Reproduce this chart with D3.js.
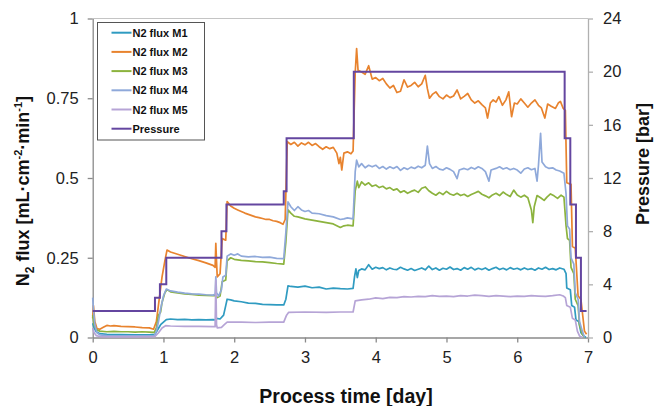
<!DOCTYPE html>
<html>
<head>
<meta charset="utf-8">
<script src="https://cdn.jsdelivr.net/npm/d3@7"></script>
<style>
  body { margin: 0; background: #fff; }
  svg { font-family: "Liberation Sans", Arial, sans-serif; }
</style>
</head>
<body>
<svg id="chart" width="660" height="406"></svg>
<script>
// series: [day, value]
const m1 = [[0,0.045],[0.02,0.03],[0.05,0.018],[0.1,0.012],[0.2,0.01],[0.4,0.009],[0.6,0.008],[0.8,0.008],[0.88,0.01],[0.92,0.025],[0.96,0.04],[1.0,0.048],[1.04,0.056],[1.1,0.058],[1.2,0.056],[1.3,0.057],[1.4,0.055],[1.5,0.056],[1.6,0.055],[1.7,0.056],[1.73,0.055],[1.75,0.06],[1.8,0.058],[1.85,0.07],[1.88,0.1],[1.9,0.12],[1.95,0.118],[2.0,0.115],[2.1,0.112],[2.2,0.108],[2.3,0.107],[2.4,0.104],[2.5,0.103],[2.6,0.102],[2.7,0.102],[2.73,0.12],[2.76,0.162],[2.8,0.16],[2.9,0.158],[3.0,0.161],[3.1,0.156],[3.2,0.158],[3.3,0.152],[3.4,0.155],[3.5,0.153],[3.6,0.152],[3.68,0.154],[3.7,0.19],[3.72,0.215],[3.74,0.188],[3.76,0.21],[3.8,0.215],[3.85,0.212],[3.9,0.228],[3.95,0.214],[4.0,0.22],[4.05,0.216],[4.1,0.219],[4.15,0.212],[4.2,0.218],[4.25,0.214],[4.3,0.213],[4.35,0.22],[4.4,0.215],[4.45,0.211],[4.5,0.216],[4.55,0.21],[4.6,0.214],[4.65,0.218],[4.7,0.212],[4.75,0.224],[4.8,0.213],[4.85,0.218],[4.9,0.211],[4.95,0.217],[5.0,0.214],[5.05,0.221],[5.1,0.213],[5.15,0.216],[5.2,0.211],[5.25,0.219],[5.3,0.214],[5.35,0.22],[5.4,0.212],[5.45,0.217],[5.5,0.213],[5.55,0.218],[5.6,0.211],[5.65,0.216],[5.7,0.22],[5.75,0.213],[5.8,0.217],[5.85,0.212],[5.9,0.219],[5.95,0.214],[6.0,0.217],[6.05,0.212],[6.1,0.218],[6.15,0.213],[6.2,0.216],[6.25,0.211],[6.3,0.218],[6.35,0.214],[6.4,0.22],[6.45,0.213],[6.5,0.216],[6.55,0.212],[6.6,0.218],[6.66,0.214],[6.69,0.2],[6.7,0.155],[6.75,0.15],[6.77,0.1],[6.81,0.095],[6.83,0.055],[6.87,0.05],[6.9,0.015],[6.94,0.005],[6.97,0]];

const m2 = [[0,0.06],[0.01,0.1],[0.03,0.05],[0.06,0.028],[0.1,0.026],[0.15,0.032],[0.2,0.038],[0.25,0.036],[0.3,0.037],[0.4,0.035],[0.5,0.034],[0.6,0.033],[0.7,0.031],[0.8,0.03],[0.86,0.026],[0.9,0.05],[0.94,0.12],[0.98,0.19],[1.02,0.24],[1.05,0.274],[1.1,0.268],[1.2,0.261],[1.3,0.254],[1.4,0.247],[1.5,0.241],[1.6,0.234],[1.7,0.226],[1.73,0.22],[1.74,0.295],[1.75,0.24],[1.76,0.19],[1.8,0.2],[1.83,0.31],[1.88,0.305],[1.9,0.426],[1.95,0.412],[2.0,0.405],[2.05,0.4],[2.1,0.395],[2.15,0.39],[2.2,0.386],[2.25,0.382],[2.3,0.378],[2.35,0.376],[2.4,0.373],[2.45,0.37],[2.5,0.37],[2.55,0.366],[2.6,0.364],[2.65,0.36],[2.69,0.355],[2.72,0.37],[2.75,0.614],[2.8,0.605],[2.85,0.612],[2.9,0.6],[2.95,0.61],[3.0,0.604],[3.05,0.612],[3.1,0.602],[3.15,0.608],[3.2,0.598],[3.25,0.59],[3.3,0.598],[3.35,0.592],[3.4,0.596],[3.45,0.578],[3.48,0.545],[3.5,0.565],[3.52,0.525],[3.55,0.578],[3.6,0.582],[3.65,0.576],[3.68,0.585],[3.71,0.83],[3.73,0.906],[3.75,0.838],[3.8,0.832],[3.85,0.825],[3.9,0.852],[3.95,0.81],[4.0,0.815],[4.05,0.805],[4.1,0.812],[4.15,0.795],[4.2,0.782],[4.25,0.79],[4.3,0.768],[4.35,0.772],[4.4,0.808],[4.45,0.785],[4.5,0.79],[4.55,0.8],[4.6,0.786],[4.65,0.795],[4.7,0.822],[4.73,0.78],[4.76,0.75],[4.8,0.762],[4.85,0.77],[4.9,0.755],[4.95,0.748],[5.0,0.76],[5.05,0.752],[5.1,0.757],[5.15,0.776],[5.2,0.748],[5.25,0.756],[5.3,0.765],[5.35,0.745],[5.4,0.735],[5.45,0.742],[5.5,0.73],[5.55,0.72],[5.58,0.688],[5.62,0.735],[5.66,0.745],[5.7,0.738],[5.74,0.755],[5.79,0.728],[5.84,0.745],[5.88,0.77],[5.92,0.692],[5.96,0.735],[6.0,0.732],[6.05,0.748],[6.1,0.735],[6.15,0.722],[6.2,0.735],[6.25,0.745],[6.3,0.728],[6.34,0.72],[6.39,0.688],[6.43,0.732],[6.48,0.725],[6.54,0.718],[6.58,0.735],[6.61,0.74],[6.65,0.718],[6.68,0.712],[6.7,0.485],[6.76,0.48],[6.78,0.285],[6.82,0.28],[6.86,0.13],[6.9,0.12],[6.95,0.02],[6.98,0.01]];

const m3 = [[0,0.07],[0.02,0.04],[0.05,0.025],[0.1,0.02],[0.2,0.018],[0.3,0.019],[0.4,0.018],[0.5,0.018],[0.6,0.017],[0.7,0.018],[0.8,0.017],[0.87,0.016],[0.9,0.03],[0.93,0.07],[0.96,0.08],[0.98,0.11],[1.02,0.14],[1.05,0.15],[1.1,0.143],[1.2,0.14],[1.3,0.137],[1.4,0.135],[1.5,0.133],[1.6,0.132],[1.7,0.131],[1.73,0.132],[1.76,0.125],[1.8,0.13],[1.83,0.175],[1.88,0.18],[1.9,0.24],[1.95,0.25],[2.0,0.245],[2.1,0.242],[2.2,0.24],[2.3,0.238],[2.4,0.237],[2.5,0.235],[2.6,0.232],[2.7,0.23],[2.73,0.3],[2.76,0.4],[2.8,0.39],[2.85,0.38],[2.9,0.378],[2.95,0.375],[3.0,0.372],[3.1,0.368],[3.2,0.364],[3.3,0.36],[3.4,0.356],[3.5,0.345],[3.55,0.35],[3.6,0.352],[3.68,0.35],[3.71,0.46],[3.74,0.49],[3.76,0.47],[3.8,0.488],[3.85,0.478],[3.9,0.485],[3.95,0.474],[4.0,0.478],[4.05,0.47],[4.1,0.474],[4.15,0.466],[4.2,0.47],[4.25,0.462],[4.3,0.466],[4.35,0.455],[4.4,0.46],[4.45,0.452],[4.5,0.458],[4.55,0.462],[4.6,0.455],[4.65,0.468],[4.7,0.472],[4.75,0.46],[4.8,0.452],[4.85,0.446],[4.9,0.455],[4.95,0.448],[5.0,0.458],[5.05,0.45],[5.1,0.446],[5.15,0.452],[5.2,0.445],[5.25,0.449],[5.3,0.442],[5.35,0.448],[5.4,0.453],[5.45,0.458],[5.5,0.449],[5.55,0.444],[5.6,0.438],[5.65,0.447],[5.7,0.452],[5.75,0.445],[5.8,0.456],[5.85,0.448],[5.9,0.442],[5.95,0.462],[6.0,0.447],[6.05,0.44],[6.1,0.446],[6.15,0.438],[6.2,0.4],[6.22,0.36],[6.24,0.41],[6.28,0.445],[6.33,0.438],[6.38,0.43],[6.42,0.44],[6.47,0.45],[6.52,0.444],[6.57,0.436],[6.62,0.446],[6.66,0.44],[6.69,0.35],[6.71,0.31],[6.74,0.305],[6.76,0.22],[6.8,0.2],[6.82,0.12],[6.86,0.1],[6.88,0.04],[6.92,0.01],[6.95,0]];

const m4 = [[0,0.125],[0.01,0.09],[0.03,0.04],[0.06,0.015],[0.1,0.008],[0.2,0.006],[0.4,0.005],[0.6,0.005],[0.8,0.005],[0.87,0.006],[0.9,0.02],[0.93,0.05],[0.96,0.09],[1.0,0.13],[1.04,0.152],[1.1,0.146],[1.2,0.142],[1.3,0.139],[1.4,0.137],[1.5,0.136],[1.6,0.134],[1.7,0.133],[1.73,0.135],[1.74,0.19],[1.75,0.14],[1.78,0.13],[1.82,0.15],[1.84,0.19],[1.88,0.195],[1.9,0.255],[1.95,0.262],[2.0,0.258],[2.05,0.262],[2.1,0.255],[2.2,0.253],[2.3,0.254],[2.4,0.251],[2.5,0.252],[2.6,0.248],[2.7,0.247],[2.73,0.33],[2.76,0.425],[2.8,0.41],[2.85,0.398],[2.9,0.41],[2.95,0.4],[3.0,0.395],[3.05,0.398],[3.1,0.39],[3.2,0.388],[3.3,0.382],[3.4,0.378],[3.5,0.37],[3.55,0.372],[3.6,0.375],[3.68,0.372],[3.71,0.52],[3.73,0.556],[3.76,0.535],[3.8,0.545],[3.85,0.532],[3.9,0.54],[3.95,0.535],[4.0,0.54],[4.05,0.53],[4.1,0.536],[4.15,0.528],[4.2,0.535],[4.25,0.53],[4.3,0.536],[4.35,0.524],[4.4,0.532],[4.45,0.527],[4.5,0.534],[4.55,0.53],[4.6,0.537],[4.65,0.532],[4.7,0.54],[4.73,0.6],[4.76,0.545],[4.8,0.53],[4.85,0.536],[4.9,0.528],[4.95,0.525],[5.0,0.532],[5.05,0.527],[5.1,0.52],[5.15,0.498],[5.18,0.525],[5.25,0.53],[5.3,0.526],[5.35,0.533],[5.4,0.528],[5.45,0.535],[5.5,0.53],[5.55,0.52],[5.6,0.49],[5.63,0.525],[5.7,0.53],[5.75,0.535],[5.8,0.528],[5.85,0.532],[5.9,0.526],[5.95,0.53],[6.0,0.525],[6.05,0.515],[6.1,0.528],[6.15,0.532],[6.2,0.526],[6.25,0.53],[6.28,0.49],[6.3,0.54],[6.33,0.64],[6.35,0.55],[6.4,0.535],[6.45,0.53],[6.5,0.532],[6.55,0.525],[6.6,0.522],[6.66,0.515],[6.69,0.45],[6.71,0.35],[6.74,0.34],[6.76,0.25],[6.8,0.23],[6.82,0.14],[6.86,0.12],[6.88,0.05],[6.92,0.02],[6.95,0]];

const m5 = [[0,0.03],[0.02,0.015],[0.05,0.006],[0.1,0.003],[0.3,0.002],[0.6,0.002],[0.88,0.003],[0.93,0.015],[0.98,0.03],[1.03,0.037],[1.1,0.036],[1.3,0.035],[1.5,0.035],[1.7,0.034],[1.73,0.034],[1.74,0.18],[1.75,0.04],[1.76,0.03],[1.82,0.032],[1.86,0.04],[1.9,0.048],[2.1,0.048],[2.3,0.047],[2.5,0.048],[2.7,0.048],[2.74,0.07],[2.77,0.079],[3.0,0.08],[3.3,0.079],[3.5,0.08],[3.68,0.08],[3.71,0.115],[3.8,0.118],[3.9,0.12],[4.0,0.124],[4.1,0.122],[4.2,0.126],[4.3,0.125],[4.4,0.128],[4.5,0.127],[4.6,0.129],[4.7,0.128],[4.8,0.131],[4.9,0.129],[5.0,0.13],[5.1,0.128],[5.2,0.131],[5.3,0.13],[5.4,0.133],[5.5,0.131],[5.6,0.129],[5.7,0.131],[5.8,0.13],[5.9,0.128],[6.0,0.13],[6.1,0.129],[6.2,0.131],[6.3,0.13],[6.4,0.129],[6.5,0.131],[6.6,0.134],[6.65,0.13],[6.68,0.125],[6.7,0.1],[6.75,0.095],[6.78,0.06],[6.82,0.055],[6.85,0.02],[6.88,0.005],[6.92,0]];

// pressure in bar, step changes
const pressure = [[0,2],[0.88,3],[0.95,4],[1.04,6],[1.82,8],[1.89,10],[2.70,11],[2.74,15],[3.69,20],[6.67,15],[6.75,10],[6.83,6],[6.90,2],[6.98,2]];

const names = ["N2 flux M1","N2 flux M2","N2 flux M3","N2 flux M4","N2 flux M5","Pressure"];
const colors = ["#2f9bc1","#e8832e","#8cb33e","#8fa9da","#b6a4d6","#6446a0"];
const xTicks = [0,1,2,3,4,5,6,7];
const yTicks = [0,0.25,0.5,0.75,1];
const pTicks = [0,4,8,12,16,20,24];

const svg = d3.select("#chart");
const margin = {top: 18.5, right: 72, bottom: 68.5, left: 92.7};
const W = 660, H = 406;

const x = d3.scaleLinear([0, 7], [margin.left, W - margin.right]);
const y = d3.scaleLinear([0, 1], [H - margin.bottom, margin.top]);
const yP = d3.scaleLinear([0, 24], [H - margin.bottom, margin.top]);

// frame: top line
svg.append("line")
  .attr("x1", x(0)).attr("x2", x(7))
  .attr("y1", y(1)).attr("y2", y(1))
  .attr("stroke", "#c4c4c4").attr("stroke-width", 1);

const styleAxis = (g, col) => {
  g.select(".domain").attr("stroke", col).attr("stroke-width", 1.3);
  g.selectAll(".tick line").attr("stroke", col).attr("stroke-width", 1.3);
  g.selectAll(".tick text").attr("fill", "#222").attr("font-size", "16.5px");
};

svg.append("g")
  .attr("transform", `translate(0,${y(0)})`)
  .call(d3.axisBottom(x).tickValues(xTicks).tickSize(5).tickSizeOuter(0).tickPadding(9)
    .tickFormat(d3.format("d")))
  .call(g => styleAxis(g, "#8a8a8a"));

svg.append("g")
  .attr("transform", `translate(${x(0)},0)`)
  .call(d3.axisLeft(y).tickValues(yTicks).tickSize(5).tickSizeOuter(0).tickPadding(9)
    .tickFormat(d => String(d)))
  .call(g => styleAxis(g, "#8a8a8a"));

svg.append("g")
  .attr("transform", `translate(${x(7)},0)`)
  .call(d3.axisRight(yP).tickValues(pTicks).tickSize(5).tickSizeOuter(0).tickPadding(10)
    .tickFormat(d3.format("d")))
  .call(g => styleAxis(g, "#b0b0b0"));

// lines
const fluxLine = d3.line().x(d => x(d[0])).y(d => y(d[1]));
const pLine = d3.line().x(d => x(d[0])).y(d => yP(d[1])).curve(d3.curveStepAfter);

const series = [m1, m2, m3, m4, m5];
svg.append("g")
  .selectAll("path")
  .data(series)
  .join("path")
    .attr("d", fluxLine)
    .attr("fill", "none")
    .attr("stroke", (d, i) => colors[i])
    .attr("stroke-width", 1.7)
    .attr("stroke-linejoin", "round");

svg.append("path")
  .attr("d", pLine(pressure))
  .attr("fill", "none")
  .attr("stroke", colors[5])
  .attr("stroke-width", 2);

// legend
const lg = svg.append("g");
lg.append("rect")
  .attr("x", 97.5).attr("y", 22.5).attr("width", 107).attr("height", 117.5)
  .attr("fill", "#fff").attr("stroke", "#555").attr("stroke-width", 1);
names.forEach((n, i) => {
  const yy = 32.7 + i * 19.2;
  lg.append("line")
    .attr("x1", 111.5).attr("x2", 131.5).attr("y1", yy).attr("y2", yy)
    .attr("stroke", colors[i]).attr("stroke-width", 2);
  lg.append("text")
    .attr("x", 132.5).attr("y", yy + 4)
    .attr("font-size", "11px").attr("font-weight", "bold").attr("fill", "#111")
    .text(n);
});

// axis titles
svg.append("text")
  .attr("x", 346).attr("y", 403)
  .attr("text-anchor", "middle")
  .attr("font-size", "19.5px").attr("font-weight", "bold").attr("fill", "#111")
  .text("Process time [day]");

const lt = svg.append("text")
  .attr("transform", "translate(29,191) rotate(-90)")
  .attr("text-anchor", "middle")
  .attr("font-size", "18px").attr("font-weight", "bold").attr("fill", "#111");
lt.append("tspan").text("N");
lt.append("tspan").attr("font-size", "12px").attr("dy", 5).text("2");
lt.append("tspan").attr("dy", -5).text(" flux [mL·cm");
lt.append("tspan").attr("font-size", "11px").attr("dy", -7).text("-2");
lt.append("tspan").attr("dy", 7).text("·min");
lt.append("tspan").attr("font-size", "11px").attr("dy", -7).text("-1");
lt.append("tspan").attr("dy", 7).text("]");

svg.append("text")
  .attr("transform", "translate(649,164) rotate(-90)")
  .attr("text-anchor", "middle")
  .attr("font-size", "18px").attr("font-weight", "bold").attr("fill", "#111")
  .text("Pressure [bar]");
</script>
</body>
</html>
